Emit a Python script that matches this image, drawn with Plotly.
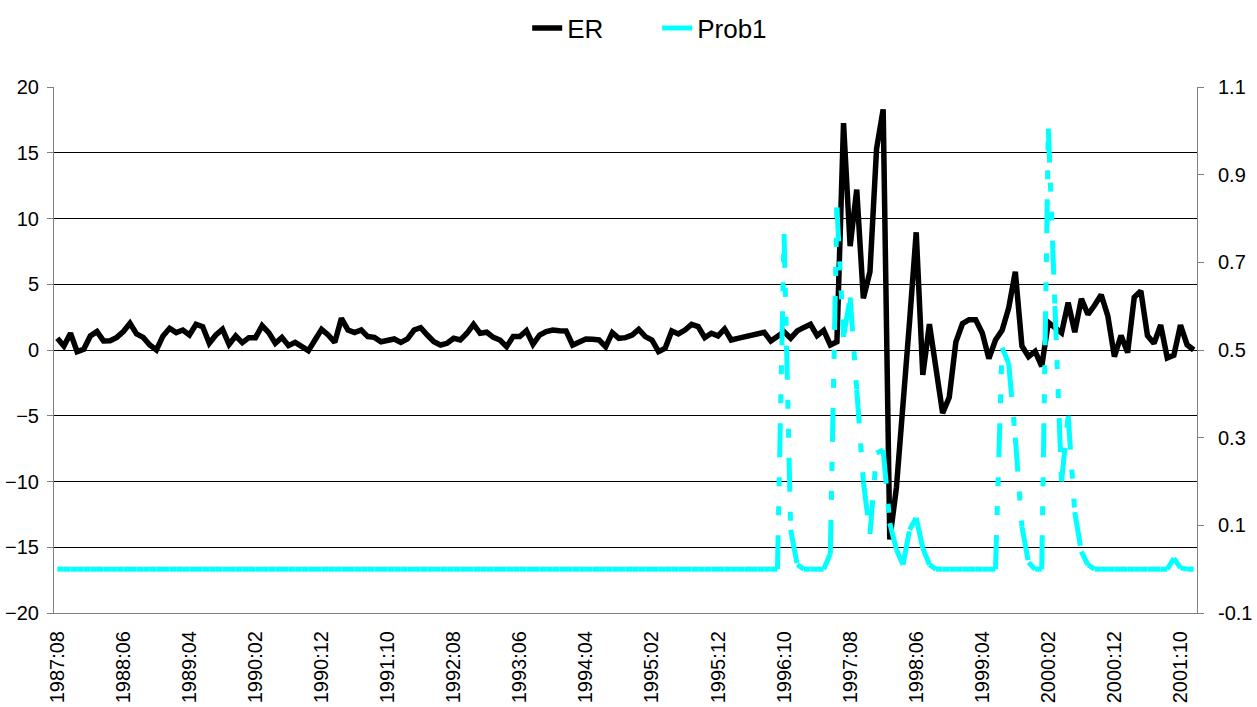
import plotly.graph_objects as go

# Monthly categories 1987:08 .. 2001:12
months = [f"{1987 + (7 + k) // 12}:{(7 + k) % 12 + 1:02d}" for k in range(173)]

tick_labels = ["1987:08", "1988:06", "1989:04", "1990:02", "1990:12", "1991:10",
               "1992:08", "1993:06", "1994:04", "1995:02", "1995:12", "1996:10",
               "1997:08", "1998:06", "1999:04", "2000:02", "2000:12", "2001:10"]

left_ticks = [-20, -15, -10, -5, 0, 5, 10, 15, 20]
right_ticks = [-0.1, 0.1, 0.3, 0.5, 0.7, 0.9, 1.1]
right_tick_text = ["-0.1", "0.1", "0.3", "0.5", "0.7", "0.9", "1.1"]

er = [
    0.89, 0.30, 1.27, -0.13, 0.05, 1.07, 1.40, 0.69, 0.71, 0.96,
    1.40, 2.03, 1.22, 0.96, 0.38, 0.00, 1.07, 1.65, 1.32, 1.52,
    1.14, 1.95, 1.78, 0.51, 1.14, 1.57, 0.43, 1.07, 0.56, 0.94,
    0.94, 1.85, 1.32, 0.51, 0.96, 0.33, 0.58, 0.25, -0.05, 0.76,
    1.57, 1.14, 0.58, 2.41, 1.52, 1.32, 1.52, 1.02, 0.96, 0.63,
    0.76, 0.84, 0.58, 0.84, 1.52, 1.70, 1.14, 0.63,
    0.38, 0.51, 0.89, 0.76, 1.27, 1.95, 1.27, 1.35, 0.96, 0.76,
    0.25, 1.02, 1.02, 1.47, 0.43, 1.14, 1.40, 1.52, 1.47, 1.45,
    0.38, 0.63, 0.84, 0.81, 0.76, 0.25, 1.32, 0.89, 0.94, 1.14,
    1.57, 1.02, 0.76, -0.13, 0.13, 1.45, 1.22, 1.52, 1.95, 1.78,
    0.94, 1.27, 1.07, 1.60, 0.76, 0.89, 1.00, 1.15, 1.30, 1.35,
    0.68, 1.10, 1.39, 0.90, 1.45, 1.72, 1.95, 1.10, 1.50, 0.38,
    0.63, 17.26, 7.90, 12.20, 3.92, 5.95, 15.30, 18.30, -14.40, -10.50,
    -3.50, 2.20, 8.95, -1.90, 1.97, -1.50, -4.80, -3.60, 0.60, 2.00,
    2.30, 2.30, 1.30, -0.65, 0.76, 1.50, 3.20, 5.95, 0.30, -0.50,
    -0.10, -1.25, 2.10, 1.70, 1.30, 3.60, 1.35, 3.90, 2.70, 3.40,
    4.20, 2.60, -0.50, 1.10, -0.20, 4.00, 4.50, 1.10, 0.50, 1.90,
    -0.60, -0.40, 1.90, 0.40, 0.00,
]

prob1 = [0.0] * 109 + [
    0.00, 0.765, 0.09, 0.01, 0.0, 0.0, 0.0, 0.0, 0.035, 0.825,   # 109-118
    0.53, 0.62, 0.41, 0.20, 0.08, 0.265, 0.272, 0.105, 0.045, 0.01,  # 119-128
    0.09, 0.117, 0.048, 0.01, 0.0, 0.0, 0.0, 0.0, 0.0, 0.0,     # 129-138
    0.0, 0.0, 0.0, 0.0, 0.505, 0.47, 0.30, 0.097, 0.015, 0.0,   # 139-148
    0.0, 1.005, 0.60, 0.20, 0.35, 0.13, 0.04, 0.01, 0.0, 0.0,   # 149-158
    0.0, 0.0, 0.0, 0.0, 0.0, 0.0, 0.0, 0.0, 0.0, 0.0,           # 159-168
    0.025, 0.003, 0.0, 0.0,                                     # 169-172
]

# Excel restarts the dash pattern on every point-to-point segment
seg_x, seg_y = [], []
for a in range(len(months) - 1):
    seg_x += [months[a], months[a + 1], None]
    seg_y += [prob1[a], prob1[a + 1], None]

FONT = "Arial, Liberation Sans, sans-serif"

fig = go.Figure()
fig.add_trace(go.Scatter(
    x=months, y=er, name="ER", mode="lines",
    line=dict(color="black", width=5.5),
    yaxis="y",
))
fig.add_trace(go.Scatter(
    x=seg_x, y=seg_y, name="Prob1", mode="lines",
    line=dict(color="#00FFFF", width=5, dash="34px,20px,9px,20px,9px,20px"),
    connectgaps=False, yaxis="y2",
))

fig.update_layout(
    width=1257, height=707,
    margin=dict(l=54, r=60, t=87, b=94, autoexpand=False),
    paper_bgcolor="white", plot_bgcolor="white",
    font=dict(family=FONT, size=20, color="black"),
    showlegend=True,
    legend=dict(
        orientation="h", x=0.414, xanchor="left", y=1.112, yanchor="middle",
        font=dict(family=FONT, size=26, color="black"),
        bgcolor="rgba(0,0,0,0)", entrywidth=85, entrywidthmode="pixels",
    ),
    xaxis=dict(
        type="category", categoryorder="array", categoryarray=months,
        range=[-0.5, 172.5],
        tickmode="array", tickvals=tick_labels, ticktext=tick_labels,
        tickangle=-90, ticks="", showgrid=False, zeroline=False,
        showline=True, linecolor="#808080", linewidth=1,
        tickfont=dict(family=FONT, size=20, color="black"),
        ticklabelstandoff=9, automargin=False,
    ),
    yaxis=dict(
        range=[-20, 20], tickmode="array", tickvals=left_ticks,
        showgrid=True, gridcolor="black", gridwidth=1, zeroline=False,
        showline=True, linecolor="#808080", linewidth=1,
        ticks="outside", ticklen=6, tickcolor="#808080",
        tickfont=dict(family=FONT, size=20, color="black"),
        ticklabelstandoff=4, automargin=False,
    ),
    yaxis2=dict(
        range=[-0.1, 1.1], overlaying="y", side="right",
        tickmode="array", tickvals=right_ticks, ticktext=right_tick_text,
        showgrid=False, zeroline=False,
        showline=True, linecolor="#808080", linewidth=1,
        ticks="outside", ticklen=6, tickcolor="#808080",
        tickfont=dict(family=FONT, size=20, color="black"),
        ticklabelstandoff=10, automargin=False,
    ),
)

fig.write_html("out.html", config={"displayModeBar": False},
               post_script="document.body.style.margin='0px';")
